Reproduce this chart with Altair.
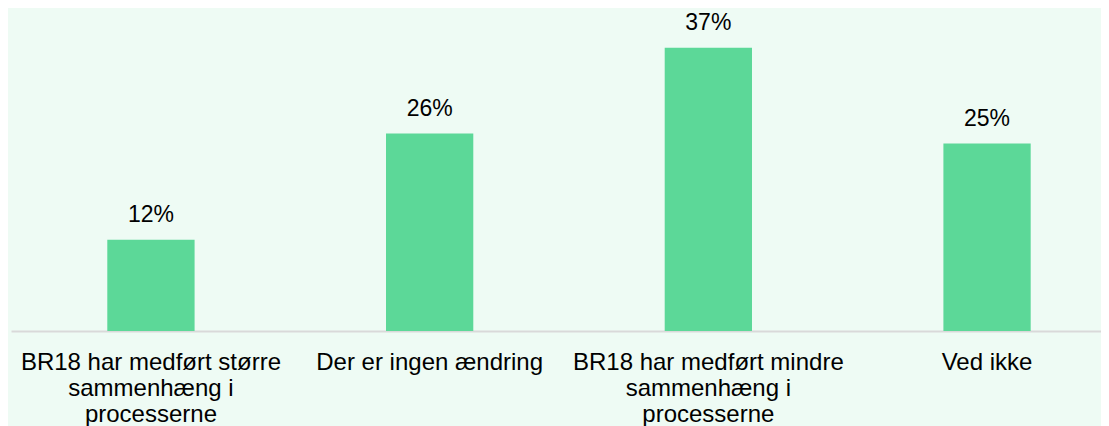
import altair as alt
import pandas as pd

categories = [
    "BR18 har medført større\nsammenhæng i\nprocesserne",
    "Der er ingen ændring",
    "BR18 har medført mindre\nsammenhæng i\nprocesserne",
    "Ved ikke",
]
values = [11.9, 25.8, 37.0, 24.5]
labels = ["12%", "26%", "37%", "25%"]

df = pd.DataFrame({"cat": categories, "val": values, "lab": labels})

FONT = "Liberation Sans"
BG = "#eefbf4"

x = alt.X(
    "cat:N",
    sort=categories,
    title=None,
    scale=alt.Scale(paddingInner=0.6868, paddingOuter=0.2989, align=0.578),
    axis=alt.Axis(
        labelAngle=0,
        labelExpr="split(datum.label, '\\n')",
        labelFont=FONT,
        labelFontSize=24,
        labelLineHeight=26,
        labelColor="#000000",
        labelPadding=19,
        labelBaseline="top",
        labelLimit=400,
        ticks=False,
        domainColor="#d9d9d9",
        domainWidth=2,
        grid=False,
    ),
)
y = alt.Y(
    "val:Q",
    title=None,
    scale=alt.Scale(domain=[0, 42.18], nice=False, zero=True),
    axis=None,
)

base = alt.Chart(df).encode(x=x, y=y)
bars = base.mark_bar(color="#5cd898")
text = base.mark_text(
    baseline="alphabetic", dy=-17.7, font=FONT, fontSize=23, color="#000000"
).encode(text="lab:N")

chart = (
    alt.layer(bars, text)
    .properties(
        width=1090,
        height=323,
        padding={"left": 3, "top": 0, "right": 0, "bottom": 0},
        background=BG,
    )
    .configure_view(stroke=None, fill=BG)
)

chart.save("out.html", embed_options={"renderer": "svg", "actions": False})
